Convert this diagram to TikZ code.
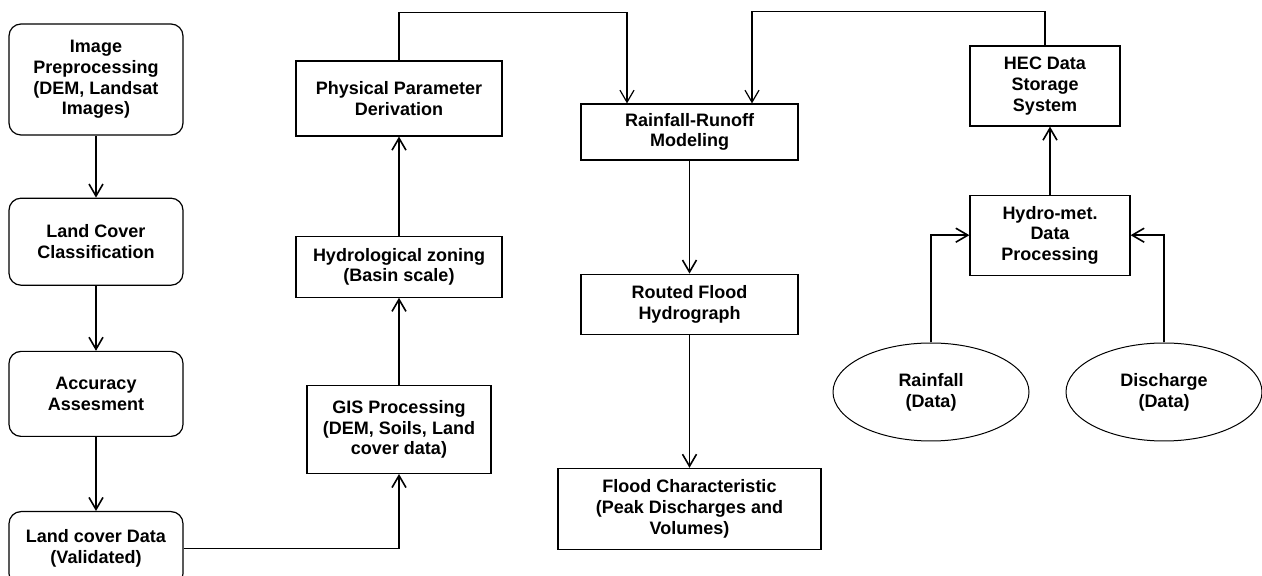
\documentclass[tikz,border=0pt]{standalone}
\usepackage{fontspec}
\setsansfont{Liberation Sans}
\usetikzlibrary{arrows.meta,positioning,shapes.geometric}

\begin{document}
\begin{tikzpicture}[
  x=1pt, y=1pt,
  font={\sffamily\bfseries\fontsize{18pt}{20.7pt}\selectfont},
  base/.style={draw=black, line width=1.2pt, align=center, inner sep=0pt},
  rbox/.style={base, rounded corners=12pt, minimum width=174pt},
  sbox/.style={base},
  oval/.style={base, ellipse, line width=1pt, minimum height=98pt},
  arrow/.style={-{Straight Barb[length=12pt,width=14pt]}, line width=1.6pt},
  feed/.style={-{Straight Barb[length=12pt,width=14pt]}, line width=1.2pt}
]
\useasboundingbox (0,0) rectangle (1262,576);

\node[rbox, minimum height=111pt] (imgpre) at (96,496.5)
  {Image\\Preprocessing\\(DEM, Landsat\\Images)};
\node[rbox, minimum height=87pt, below=62pt of imgpre] (lcclass)
  {Land Cover\\Classification};
\node[rbox, minimum height=85pt, below=65pt of lcclass] (accur)
  {Accuracy\\Assesment};
\node[rbox, minimum height=74pt, below=74pt of accur] (lcdata)
  {Land cover Data\\(Validated)};

\node[sbox, minimum width=206pt, minimum height=75pt] (physpar) at (399,477.5)
  {Physical Parameter\\Derivation};
\node[sbox, minimum width=206pt, minimum height=61pt, below=99pt of physpar] (hydzone)
  {Hydrological zoning\\(Basin scale)};
\node[sbox, minimum width=184pt, minimum height=88pt, below=87pt of hydzone] (gisproc)
  {GIS Processing\\(DEM, Soils, Land\\cover data)};

\node[sbox, minimum width=217pt, minimum height=56pt] (rrmodel) at (689.5,444)
  {Rainfall-Runoff\\Modeling};
\node[sbox, minimum width=217pt, minimum height=60pt, below=113pt of rrmodel] (routed)
  {Routed Flood\\Hydrograph};
\node[sbox, minimum width=263pt, minimum height=81pt, below=133pt of routed] (floodch)
  {Flood Characteristic\\(Peak Discharges and\\Volumes)};

\node[sbox, minimum width=150pt, minimum height=80pt] (hecdss) at (1045,490)
  {HEC Data\\Storage\\System};
\node[sbox, minimum width=160pt, minimum height=80pt, below=68pt of hecdss, xshift=5pt] (hydromet)
  {Hydro-met.\\Data\\Processing};

\node[oval, minimum width=196pt] (rainfall) at (931,184) {Rainfall\\(Data)};
\node[oval, minimum width=196pt] (discharge) at (1164,184) {Discharge\\(Data)};

\foreach \a/\b in {imgpre/lcclass,lcclass/accur,accur/lcdata,gisproc/hydzone,hydzone/physpar,rrmodel/routed,routed/floodch}
  \draw[arrow] (\a) -- (\b);

\draw[arrow] (lcdata.east) -| (gisproc.south);
\draw[feed] (physpar.north) -- ++(0,48) -| ([xshift=-62.5pt]rrmodel.north);
\draw[feed] (hecdss.north) -- ++(0,34) -| ([xshift=62.5pt]rrmodel.north);
\draw[arrow] (hydromet.north) -- (hydromet.north |- hecdss.south);
\draw[arrow] (rainfall.north) |- (hydromet.west);
\draw[arrow] (discharge.north) |- (hydromet.east);

\end{tikzpicture}
\end{document}
